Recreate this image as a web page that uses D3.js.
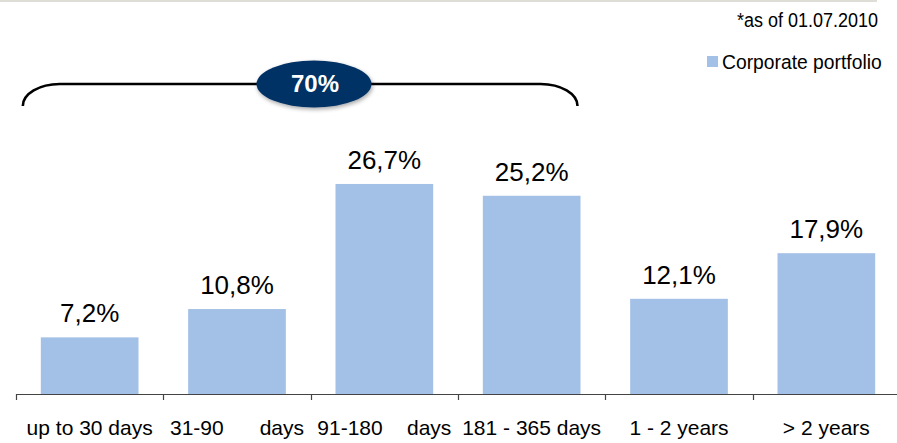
<!DOCTYPE html>
<html>
<head>
<meta charset="utf-8">
<script src="https://cdn.jsdelivr.net/npm/d3@7/dist/d3.min.js"></script>
<style>
  html, body { margin: 0; padding: 0; background: #fff; }
  svg { display: block; font-family: "Liberation Sans", Arial, sans-serif; }
</style>
</head>
<body>
<svg id="chart" width="897" height="443"></svg>
<script>
// Maturity buckets of the corporate portfolio (share of total, %)
const categories = ["up to 30 days", "31-90 days", "91-180 days", "181 - 365 days", "1 - 2 years", "> 2 years"];
const values = [7.2, 10.8, 26.7, 25.2, 12.1, 17.9];
const valueLabels = ["7,2%", "10,8%", "26,7%", "25,2%", "12,1%", "17,9%"];
const seriesName = "Corporate portfolio";
const dateNote = "*as of 01.07.2010";
const bracketLabel = "70%";
const bracketSpan = [0, 3]; // first and last bucket covered by the bracket

const W = 897, H = 443;
const barColor = "#a3c1e6";
const navy = "#003366";

const svg = d3.select("#chart");

// thin rule along the top edge
svg.append("line")
  .attr("x1", 0).attr("x2", 877).attr("y1", 1).attr("y2", 1)
  .attr("stroke", "#deded6").attr("stroke-width", 2);

const x = d3.scaleBand().domain(categories).range([16, 900]).padding(0);
const y = d3.scaleLinear().domain([0, 30]).range([394, 158]);
const barW = x.bandwidth() * 0.663;

// bars
svg.append("g").selectAll("rect")
  .data(values)
  .join("rect")
  .attr("x", (d, i) => x(categories[i]) + (x.bandwidth() - barW) / 2)
  .attr("y", d => y(d))
  .attr("width", barW)
  .attr("height", d => y(0) - y(d))
  .attr("fill", barColor);

// value labels
svg.append("g").selectAll("text")
  .data(values)
  .join("text")
  .attr("x", (d, i) => x(categories[i]) + x.bandwidth() / 2)
  .attr("y", d => y(d) - 15)
  .attr("text-anchor", "middle")
  .attr("font-size", 26)
  .attr("fill", "#000")
  .text((d, i) => valueLabels[i]);

// category axis: baseline with ticks at the bucket boundaries
const axis = svg.append("g");
axis.append("line")
  .attr("x1", 16).attr("x2", W).attr("y1", y(0) + 0.5).attr("y2", y(0) + 0.5)
  .attr("stroke", "#444").attr("stroke-width", 1.2);
axis.selectAll("line.tick")
  .data(categories)
  .join("line")
  .attr("class", "tick")
  .attr("x1", d => Math.round(x(d)) + 0.5).attr("x2", d => Math.round(x(d)) + 0.5)
  .attr("y1", y(0)).attr("y2", y(0) + 6)
  .attr("stroke", "#444").attr("stroke-width", 1.2);

const catText = axis.selectAll("text")
  .data(categories)
  .join("text")
  .attr("x", d => x(d) + x.bandwidth() / 2)
  .attr("y", 435)
  .attr("text-anchor", "middle")
  .attr("font-size", 21)
  .attr("fill", "#000")
  .text(d => d);

// the two "days" buckets are set justified across a fixed width
const justified = [1, 2], justifyWidth = 134;
catText.each(function (d, i) {
  if (!justified.includes(i)) return;
  const natural = this.getComputedTextLength();
  const gaps = d.split(" ").length - 1;
  if (gaps > 0) d3.select(this).style("word-spacing", ((justifyWidth - natural) / gaps) + "px");
});

// date note (slightly condensed)
svg.append("text")
  .attr("x", 737).attr("y", 27)
  .attr("font-size", 20)
  .attr("textLength", 141).attr("lengthAdjust", "spacingAndGlyphs")
  .attr("fill", "#000")
  .text(dateNote);

// legend
svg.append("rect")
  .attr("x", 707).attr("y", 56).attr("width", 11).attr("height", 11)
  .attr("fill", barColor);
svg.append("text")
  .attr("x", 722).attr("y", 69)
  .attr("font-size", 19.3)
  .attr("fill", "#000")
  .text(seriesName);

// bracket over the short-term buckets
const bx0 = x(categories[bracketSpan[0]]) + (x.bandwidth() - barW) / 2 - 18;
const bx1 = x(categories[bracketSpan[1]]) + (x.bandwidth() + barW) / 2 - 3;
const by = 84, bEnd = 106, rx = 37;
svg.append("path")
  .attr("d", `M${bx0},${bEnd} A${rx},${bEnd - by} 0 0 1 ${bx0 + rx},${by} L${bx1 - rx},${by} A${rx},${bEnd - by} 0 0 1 ${bx1},${bEnd}`)
  .attr("fill", "none")
  .attr("stroke", "#000")
  .attr("stroke-width", 2.6);

const cx = 314;
const defs = svg.append("defs");
const f = defs.append("filter").attr("id", "soft").attr("x", "-20%").attr("y", "-30%").attr("width", "140%").attr("height", "160%");
f.append("feGaussianBlur").attr("in", "SourceAlpha").attr("stdDeviation", 2);
f.append("feOffset").attr("dx", 1).attr("dy", 2).attr("result", "b");
f.append("feComponentTransfer").append("feFuncA").attr("type", "linear").attr("slope", 0.35);
const m = f.append("feMerge");
m.append("feMergeNode");
m.append("feMergeNode").attr("in", "SourceGraphic");

svg.append("ellipse")
  .attr("cx", cx).attr("cy", by).attr("rx", 57.5).attr("ry", 23.5)
  .attr("fill", navy)
  .attr("filter", "url(#soft)");
svg.append("text")
  .attr("x", cx + 1).attr("y", by + 8)
  .attr("text-anchor", "middle")
  .attr("font-size", 24)
  .attr("font-weight", "bold")
  .attr("fill", "#fff")
  .text(bracketLabel);
</script>
</body>
</html>
